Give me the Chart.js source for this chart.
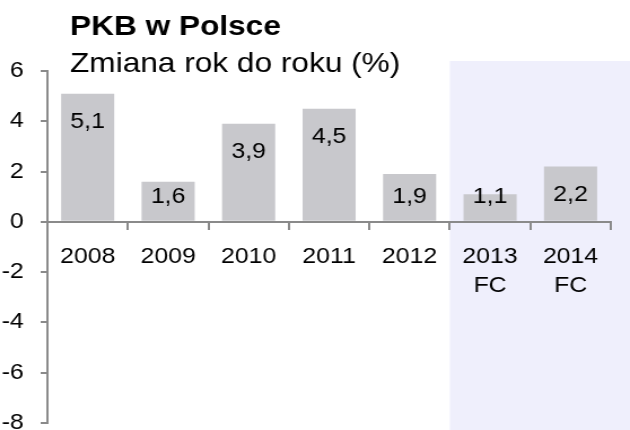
<!DOCTYPE html>
<html>
<head>
<meta charset="utf-8">
<script src="https://cdn.jsdelivr.net/npm/chart.js@4/dist/chart.umd.min.js"></script>
<style>
  html, body { margin: 0; padding: 0; background: #ffffff; overflow: hidden; }
  #wrap { width: 558px; height: 430px; transform: scaleX(1.129); transform-origin: 0 0; }
</style>
</head>
<body>
<div id="wrap"><canvas id="c"></canvas></div>
<script>
// ---- data ----
const years = ['2008', '2009', '2010', '2011', '2012', '2013', '2014'];
const forecastYears = ['2013', '2014'];
const gdpChange = [5.1, 1.6, 3.9, 4.5, 1.9, 1.1, 2.2];
const yMin = -8;
const yMax = 6;
const yStep = 2;
const titleText = 'PKB w Polsce';
const subtitleText = 'Zmiana rok do roku (%)';

const labels = years.map(y => forecastYears.includes(y) ? [y, 'FC'] : [y]);
const FONT = "'Liberation Sans', Arial, sans-serif";
const AXIS = '#8a8a8a';

const forecastShade = {
  id: 'forecastShade',
  beforeDraw(chart) {
    const x = chart.scales.x;
    const first = years.indexOf(forecastYears[0]);
    const left = x.getPixelForValue(first - 0.5);
    const top = chart.chartArea.top - 10;
    const ctx = chart.ctx;
    ctx.save();
    ctx.fillStyle = '#efeffc';
    ctx.fillRect(left, top, chart.width - left, chart.height - top);
    ctx.restore();
  }
};

const valueLabels = {
  id: 'valueLabels',
  afterDatasetsDraw(chart) {
    const ctx = chart.ctx;
    const zero = chart.scales.y.getPixelForValue(0);
    const meta = chart.getDatasetMeta(0);
    ctx.save();
    ctx.font = '22px ' + FONT;
    ctx.fillStyle = '#000';
    ctx.textAlign = 'center';
    ctx.textBaseline = 'middle';
    meta.data.forEach((bar, i) => {
      const y = Math.min(bar.y + 28, zero - 25);
      ctx.fillText(gdpChange[i].toFixed(1).replace('.', ','), bar.x, y);
    });
    ctx.restore();
  }
};

const titles = {
  id: 'titles',
  afterDraw(chart) {
    const ctx = chart.ctx;
    ctx.save();
    ctx.fillStyle = '#000';
    ctx.textAlign = 'left';
    ctx.textBaseline = 'alphabetic';
    ctx.font = 'bold 28px ' + FONT;
    ctx.fillText(titleText, 62, 35);
    ctx.font = '28px ' + FONT;
    ctx.fillText(subtitleText, 62, 72);
    ctx.restore();
  }
};

new Chart(document.getElementById('c'), {
  type: 'bar',
  data: {
    labels: labels,
    datasets: [{
      data: gdpChange,
      backgroundColor: '#c8c8cc',
      borderWidth: 0,
      categoryPercentage: 1,
      barPercentage: 0.66
    }]
  },
  options: {
    responsive: true,
    maintainAspectRatio: false,
    animation: false,
    events: [],
    layout: { padding: { top: 71, right: 17, bottom: 7, left: 0 } },
    plugins: { legend: { display: false }, tooltip: { enabled: false }, title: { display: false } },
    scales: {
      x: {
        type: 'category',
        position: { y: 0 },
        offset: true,
        grid: { display: true, drawOnChartArea: false, drawTicks: true, tickLength: 7, color: AXIS, lineWidth: 2, offset: true },
        border: { display: true, color: AXIS, width: 2 },
        ticks: { color: '#000', font: { family: FONT, size: 22, lineHeight: 1.35 }, padding: 13, maxRotation: 0, autoSkip: false }
      },
      y: {
        min: yMin,
        max: yMax,
        afterFit(scale) { scale.width = 42; scale.paddingTop = 0; scale.paddingBottom = 0; },
        grid: { display: true, drawOnChartArea: false, drawTicks: true, tickLength: 6, color: AXIS, lineWidth: 2 },
        border: { display: true, color: AXIS, width: 2 },
        ticks: { stepSize: yStep, color: '#000', font: { family: FONT, size: 22 }, padding: 15 }
      }
    }
  },
  plugins: [forecastShade, valueLabels, titles]
});
</script>
</body>
</html>
